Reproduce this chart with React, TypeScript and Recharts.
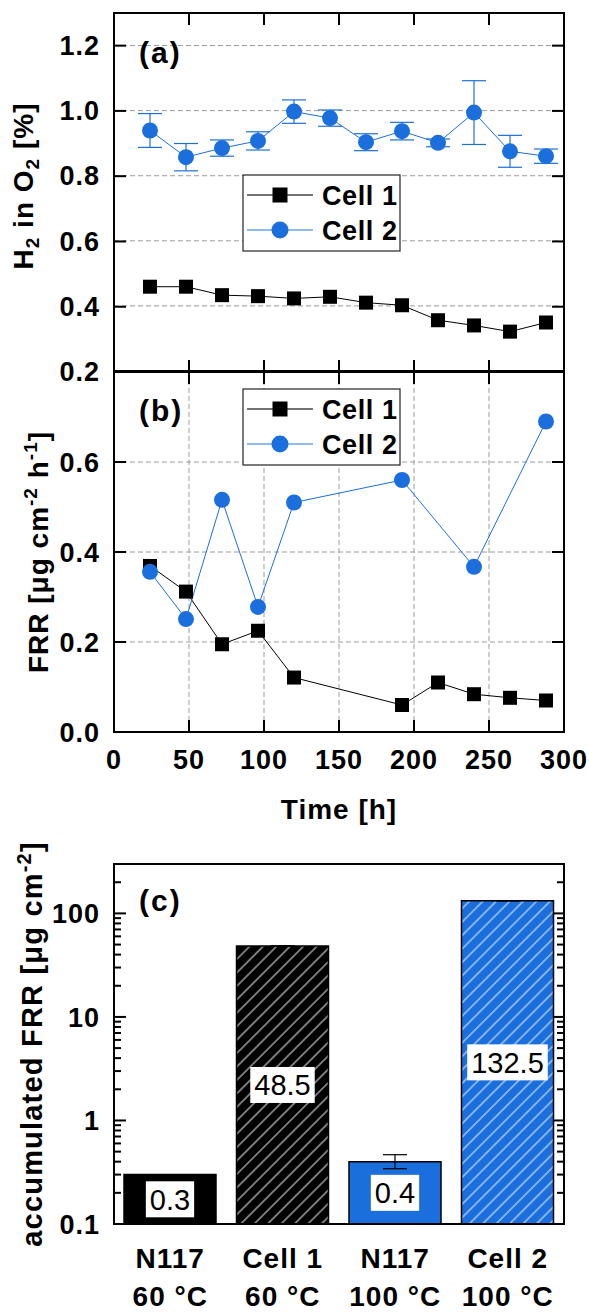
import React from "react";
import {
  ComposedChart,
  Line,
  Bar,
  Cell,
  XAxis,
  YAxis,
  CartesianGrid,
  ErrorBar,
  Legend,
  Label,
  LabelList,
} from "recharts";

const FONT = '"Liberation Sans", Arial, Helvetica, sans-serif';
const BLUE = "#1b6fdd";

// panel (a): H2 in O2 [%]
const hours = [24, 48, 72, 96, 120, 144, 168, 192, 216, 240, 264, 288];
const h2Cell1 = [0.459, 0.459, 0.433, 0.43, 0.423, 0.428, 0.41, 0.402, 0.356, 0.34, 0.321, 0.349];
const h2Cell2 = [0.939, 0.857, 0.885, 0.907, 0.997, 0.977, 0.903, 0.937, 0.901, 0.994, 0.875, 0.86];
const h2Cell2Err = [0.052, 0.042, 0.025, 0.028, 0.036, 0.025, 0.026, 0.027, 0.012, 0.098, 0.049, 0.022];

// panel (b): FRR [ug cm-2 h-1]
const frrCell1 = [0.369, 0.312, 0.195, 0.225, 0.121, null, null, 0.06, 0.11, 0.084, 0.076, 0.07];
const frrCell2 = [0.356, 0.251, 0.516, 0.278, 0.51, null, null, 0.56, null, 0.367, null, 0.69];

const timeDomain = [0, 300];
const timeTicks = [0, 50, 100, 150, 200, 250, 300];
const h2Domain = [0.2, 1.3];
const h2Ticks = [0.2, 0.4, 0.6, 0.8, 1.0, 1.2];
const frrDomain = [0, 0.8];
const frrTicks = [0, 0.2, 0.4, 0.6];

// panel (c): accumulated FRR
const sampleNames = ["N117", "Cell 1", "N117", "Cell 2"];
const sampleTemps = ["60 °C", "60 °C", "100 °C", "100 °C"];
const accFrr = [0.3, 48.5, 0.4, 132.5];
const accErr = [[0, 0], [0, 0], [0.058, 0.067], [0, 0]];
const accLabels = ["0.3", "48.5", "0.4", "132.5"];
const accFills = ["#000000", "url(#hatchBlack)", BLUE, "url(#hatchBlue)"];

const logDomain = [0.1, 300];
const logMajor = [0.1, 1, 10, 100];
const logMinor = [
  0.2, 0.3, 0.4, 0.5, 0.6, 0.7, 0.8, 0.9,
  2, 3, 4, 5, 6, 7, 8, 9,
  20, 30, 40, 50, 60, 70, 80, 90,
  200,
];

const dataA = hours.map((t, i) => ({ t, c1: h2Cell1[i], c2: h2Cell2[i], e2: h2Cell2Err[i] }));
const dataB = hours.map((t, i) => ({ t, c1: frrCell1[i], c2: frrCell2[i] }));
const catKeys = sampleNames.map((n, i) => `${n} ${sampleTemps[i]}`);
const dataC = catKeys.map((k, i) => ({ k, v: accFrr[i], err: accErr[i], lbl: accLabels[i] }));

const tickFont = { fontFamily: FONT, fontWeight: 700, fontSize: 27, fill: "#000", letterSpacing: 1 };
const titleFont = { fontFamily: FONT, fontWeight: 700, fontSize: 28, fill: "#000", letterSpacing: 1 };
const tagFont = { fontFamily: FONT, fontWeight: 700, fontSize: 30, fill: "#000", letterSpacing: 2 };

// plot box of each panel (chart width 589, y-axis width 114, right margin 25)
type Box = { l: number; r: number; t: number; b: number };
const boxA: Box = { l: 114, r: 564, t: 13, b: 372 };
const boxB: Box = { l: 114, r: 564, t: 12, b: 372 };
const boxC: Box = { l: 114, r: 564, t: 24, b: 384 };

const linPos = (v: number, d: number[], lo: number, hi: number) => lo + ((v - d[0]) / (d[1] - d[0])) * (hi - lo);
const logPos = (v: number, d: number[], lo: number, hi: number) =>
  lo + ((Math.log10(v) - Math.log10(d[0])) / (Math.log10(d[1]) - Math.log10(d[0]))) * (hi - lo);

type Mark = { p: number; len: number };

// closed frame with inward ticks (returned as a plain <g>, placed straight in the chart svg)
const frame = (key: string, box: Box, ys: Mark[], xs: Mark[]) => {
  const { l, r, t, b } = box;
  return (
    <g key={key}>
      <rect x={l - 1} y={t - 1} width={r - l + 2} height={2} fill="#000" />
      <rect x={l - 1} y={b - 1} width={r - l + 2} height={2} fill="#000" />
      <rect x={l - 1} y={t - 1} width={2} height={b - t + 2} fill="#000" />
      <rect x={r - 1} y={t - 1} width={2} height={b - t + 2} fill="#000" />
      {ys.map((m, i) => (
        <g key={`y${i}`}>
          <rect x={l} y={m.p - 1} width={m.len} height={2} fill="#000" />
          <rect x={r - m.len} y={m.p - 1} width={m.len} height={2} fill="#000" />
        </g>
      ))}
      {xs.map((m, i) => (
        <g key={`x${i}`}>
          <rect x={m.p - 1} y={b - m.len} width={2} height={m.len} fill="#000" />
          <rect x={m.p - 1} y={t} width={2} height={m.len} fill="#000" />
        </g>
      ))}
    </g>
  );
};

const timeMarks = (box: Box) => timeTicks.map((v) => ({ p: linPos(v, timeDomain, box.l, box.r), len: 12 }));
const linMarks = (box: Box, vals: number[], d: number[]) => vals.map((v) => ({ p: linPos(v, d, box.b, box.t), len: 12 }));
const logMarks = (box: Box) => [
  ...logMajor.map((v) => ({ p: logPos(v, logDomain, box.b, box.t), len: 12 })),
  ...logMinor.map((v) => ({ p: logPos(v, logDomain, box.b, box.t), len: 7 })),
];

const fmt1 = (v: number) => v.toFixed(1);

const leftLabel = (fmt: (v: number) => string) => (p: any) => (
  <text x={p.x} y={p.y} dy="0.36em" textAnchor="end" style={tickFont}>
    {fmt(p.payload.value)}
  </text>
);

const bottomLabel = (p: any) => (
  <text x={p.x} y={p.y + 37} textAnchor="middle" style={tickFont}>
    {p.payload.value}
  </text>
);

const squareDot = (p: any) =>
  p.cy == null ? (
    <g key={p.index} />
  ) : (
    <rect key={p.index} x={p.cx - 7} y={p.cy - 7} width={14} height={14} fill="#000" />
  );

const circleDot = (p: any) =>
  p.cy == null ? <g key={p.index} /> : <circle key={p.index} cx={p.cx} cy={p.cy} r={8} fill={BLUE} />;

const LegendBox = () => (
  <svg width={160} height={78} style={{ display: "block" }}>
    <rect x={1} y={1} width={157} height={76} fill="#fff" stroke="#222" strokeWidth={1.2} />
    <line x1={5} x2={71} y1={21} y2={21} stroke="#444" strokeWidth={1.5} />
    <rect x={30.5} y={13.5} width={15} height={15} fill="#000" />
    <text x={80} y={21} dy="0.36em" style={{ ...titleFont, fontSize: 27, letterSpacing: 0.6 }}>
      Cell 1
    </text>
    <line x1={5} x2={71} y1={56} y2={56} stroke="#6ea3ec" strokeWidth={1.5} />
    <circle cx={38} cy={56} r={8.5} fill={BLUE} />
    <text x={80} y={56} dy="0.36em" style={{ ...titleFont, fontSize: 27, letterSpacing: 0.6 }}>
      Cell 2
    </text>
  </svg>
);

const titleA = (p: any) => {
  const vb = p.viewBox;
  const cx = vb.x + 33;
  const cy = vb.y + vb.height / 2 - 6;
  return (
    <text x={cx} y={cy} textAnchor="middle" transform={`rotate(-90 ${cx} ${cy})`} style={titleFont}>
      H<tspan dy={6} fontSize={19}>2</tspan>
      <tspan dy={-6}> in O</tspan>
      <tspan dy={6} fontSize={19}>2</tspan>
      <tspan dy={-6}> [%]</tspan>
    </text>
  );
};

const titleB = (p: any) => {
  const vb = p.viewBox;
  const cx = vb.x + 48;
  const cy = vb.y + vb.height / 2;
  return (
    <text x={cx} y={cy} textAnchor="middle" transform={`rotate(-90 ${cx} ${cy})`} style={titleFont}>
      FRR [μg cm<tspan dy={-11} fontSize={19}>-2</tspan>
      <tspan dy={11}> h</tspan>
      <tspan dy={-11} fontSize={19}>-1</tspan>
      <tspan dy={11}>]</tspan>
    </text>
  );
};

const titleC = (p: any) => {
  const vb = p.viewBox;
  const cx = vb.x + 42;
  const cy = vb.y + vb.height / 2;
  return (
    <text x={cx} y={cy} textAnchor="middle" transform={`rotate(-90 ${cx} ${cy})`}
      style={{ ...titleFont, fontSize: 29, letterSpacing: 1.2 }}>
      accumulated FRR [μg cm<tspan dy={-11} fontSize={20}>-2</tspan>
      <tspan dy={11}>]</tspan>
    </text>
  );
};

const timeTitle = (p: any) => {
  const vb = p.viewBox;
  return (
    <text x={vb.x + vb.width / 2} y={vb.y + 87} textAnchor="middle" style={titleFont}>
      Time [h]
    </text>
  );
};

const categoryTick = (p: any) => {
  const i = catKeys.indexOf(p.payload.value);
  const f = { ...tickFont, fontSize: 28 };
  return (
    <text x={p.x} y={p.y} textAnchor="middle" style={f}>
      <tspan x={p.x} dy={44}>{sampleNames[i]}</tspan>
      <tspan x={p.x} dy={38}>{sampleTemps[i]}</tspan>
    </text>
  );
};

const valueBox = (p: any) => {
  const vb = p.viewBox && p.viewBox.width != null ? p.viewBox : p;
  const cx = vb.x + vb.width / 2;
  const cy = vb.y + vb.height / 2;
  const s = String(p.value);
  const fs = 29;
  let w = 0;
  for (const ch of s) w += ch === "." ? 0.278 : 0.556;
  const bw = w * fs + 8;
  return (
    <g>
      <rect x={cx - bw / 2} y={cy - 18} width={bw} height={36} fill="#fff" />
      <text x={cx} y={cy} dy="0.36em" textAnchor="middle" style={{ fontFamily: FONT, fontSize: fs, fill: "#000" }}>
        {s}
      </text>
    </g>
  );
};

const axisFrame = { stroke: "#000", strokeWidth: 2 };
const plain = { tickSize: 0, tickLine: false, axisLine: axisFrame, stroke: "#000", interval: 0 as const };

function PanelA() {
  return (
    <ComposedChart width={589} height={392} data={dataA} margin={{ top: 13, right: 25, bottom: 20, left: 0 }}>
      <CartesianGrid stroke="#9c9c9c" strokeDasharray="5 3" />
      <XAxis dataKey="t" type="number" domain={timeDomain} ticks={timeTicks} height={1} tick={false} {...plain} />
      <YAxis type="number" domain={h2Domain} ticks={h2Ticks} width={114} tickMargin={14}
        tick={leftLabel(fmt1)} {...plain}>
        <Label content={titleA} />
      </YAxis>
      <Legend layout="vertical" align="center" verticalAlign="middle" content={LegendBox}
        wrapperStyle={{ left: 242, top: 174, width: 160, height: 78 }} />
      <Line dataKey="c1" stroke="#000" strokeWidth={1} dot={squareDot} activeDot={false} isAnimationActive={false} />
      <Line dataKey="c2" stroke={BLUE} strokeWidth={1} dot={circleDot} activeDot={false} isAnimationActive={false}>
        <ErrorBar dataKey="e2" width={12} stroke={BLUE} strokeWidth={1.2} />
      </Line>
      {frame("fa", boxA, linMarks(boxA, h2Ticks, h2Domain), timeMarks(boxA))}
      <text x={139} y={63} style={tagFont}>(a)</text>
    </ComposedChart>
  );
}

function PanelB() {
  return (
    <ComposedChart width={589} height={470} data={dataB} margin={{ top: 12, right: 25, bottom: 0, left: 0 }}>
      <CartesianGrid stroke="#9c9c9c" strokeDasharray="5 3" />
      <XAxis dataKey="t" type="number" domain={timeDomain} ticks={timeTicks} height={98} tickMargin={0}
        tick={bottomLabel} {...plain}>
        <Label content={timeTitle} />
      </XAxis>
      <YAxis type="number" domain={frrDomain} ticks={frrTicks} width={114} tickMargin={14}
        tick={leftLabel(fmt1)} {...plain}>
        <Label content={titleB} />
      </YAxis>
      <Legend layout="vertical" align="center" verticalAlign="middle" content={LegendBox}
        wrapperStyle={{ left: 242, top: 28, width: 160, height: 78 }} />
      <Line dataKey="c1" stroke="#000" strokeWidth={1} dot={squareDot} activeDot={false} connectNulls
        isAnimationActive={false} />
      <Line dataKey="c2" stroke={BLUE} strokeWidth={1} dot={circleDot} activeDot={false} connectNulls
        isAnimationActive={false} />
      {frame("fb", boxB, linMarks(boxB, frrTicks, frrDomain), timeMarks(boxB))}
      <text x={139} y={61} style={tagFont}>(b)</text>
    </ComposedChart>
  );
}

function PanelC() {
  return (
    <ComposedChart width={589} height={472} data={dataC} margin={{ top: 24, right: 25, bottom: 0, left: 0 }}>
      <defs>
        <pattern id="hatchBlack" patternUnits="userSpaceOnUse" width={9.5} height={9.5} patternTransform="rotate(45)">
          <rect width={9.5} height={9.5} fill="#000" />
          <line x1={4.75} y1={0} x2={4.75} y2={9.5} stroke="#d8d8d8" strokeWidth={1.1} />
        </pattern>
        <pattern id="hatchBlue" patternUnits="userSpaceOnUse" width={9.5} height={9.5} patternTransform="rotate(45)">
          <rect width={9.5} height={9.5} fill={BLUE} />
          <line x1={4.75} y1={0} x2={4.75} y2={9.5} stroke="#d6e5fa" strokeWidth={1.1} />
        </pattern>
      </defs>
      <XAxis dataKey="k" height={88} tickMargin={0} tick={categoryTick} {...plain} />
      <YAxis scale="log" type="number" domain={logDomain} ticks={logMajor} width={114} tickMargin={14}
        tick={leftLabel((v) => String(v))} {...plain}>
        <Label content={titleC} />
      </YAxis>
      <Bar dataKey="v" barSize={92} stroke="#000" strokeWidth={1.5} isAnimationActive={false}>
        {dataC.map((d, i) => (
          <Cell key={d.k} fill={accFills[i]} />
        ))}
        <ErrorBar dataKey="err" width={12} stroke="#000" strokeWidth={1.2} />
        <LabelList dataKey="lbl" position="center" content={valueBox} />
      </Bar>
      {frame("fc", boxC, logMarks(boxC), [])}
      <text x={139} y={71} style={tagFont}>(c)</text>
    </ComposedChart>
  );
}

export default function App() {
  return (
    <div style={{ position: "absolute", left: 0, top: 0, width: 589, height: 1312 }}>
      <div style={{ position: "absolute", left: 0, top: 0 }}>
        <PanelA />
      </div>
      <div style={{ position: "absolute", left: 0, top: 360 }}>
        <PanelB />
      </div>
      <div style={{ position: "absolute", left: 0, top: 840 }}>
        <PanelC />
      </div>
    </div>
  );
}
